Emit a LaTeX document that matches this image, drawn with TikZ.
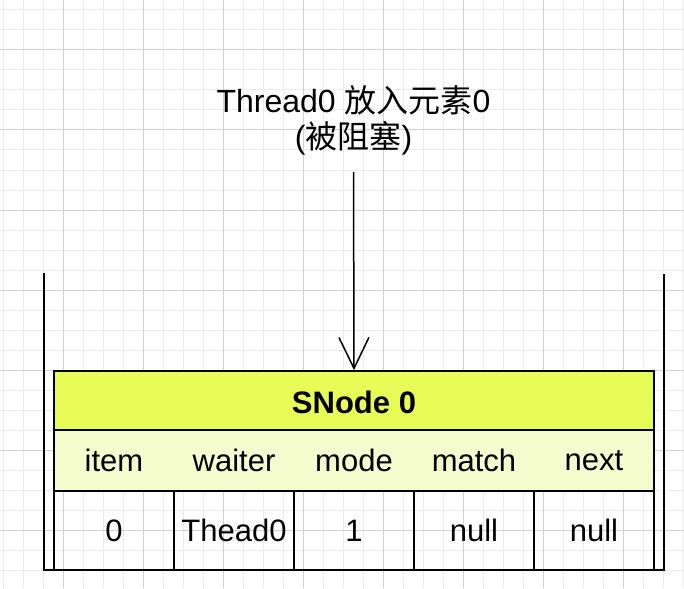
\documentclass[tikz,border=0pt]{standalone}
\usepackage{fontspec}
\setmainfont{Liberation Sans}
\newfontfamily\cjk{Noto Sans CJK SC}
\usetikzlibrary{arrows.meta,positioning}
\definecolor{hdrfill}{RGB}{232,252,88}
\definecolor{fldfill}{RGB}{245,253,206}
\tikzset{
  gminor/.style = {draw=black!8, line width=1pt},
  gmajor/.style = {draw=black!18, line width=1pt},
  hdr/.style    = {draw, line width=1.5pt, fill=hdrfill, minimum width=600pt,
                   minimum height=59pt, inner sep=0pt},
  frow/.style   = {draw, line width=1.5pt, fill=fldfill, minimum width=600pt,
                   minimum height=61pt, inner sep=0pt},
  fld/.style    = {inner sep=0pt, font=\fontsize{31}{36}\selectfont},
  cell/.style   = {draw, line width=1.5pt, minimum width=120pt,
                   minimum height=79pt, inner sep=0pt,
                   font=\fontsize{31}{36}\selectfont},
  wall/.style   = {line width=2pt},
  e/.style      = {-{Straight Barb[length=31pt,width=30pt]}, line width=1.5pt},
  title/.style  = {align=center, font=\fontsize{32}{36.4}\selectfont}
}

\begin{document}
\begin{tikzpicture}[x=1pt,y=-1pt]
  \useasboundingbox (0,0) rectangle (684,588);
  \fill[white] (0,0) rectangle (684,588);
  % ---- background grid ----
  \foreach \gx in {3,23,...,683} \draw[gminor] (\gx,0) -- (\gx,588);
  \foreach \gy in {10,30,...,580} \draw[gminor] (0,\gy) -- (684,\gy);
  \foreach \gx in {63,143,...,623} \draw[gmajor] (\gx,0) -- (\gx,588);
  \foreach \gy in {50,130,...,530} \draw[gmajor] (0,\gy) -- (684,\gy);
  % ---- queue walls ----
  \draw[wall] (44,273) -- (44,570) -- (664,570) -- (664,274);
  % ---- SNode 0 ----
  \node[hdr] (hdr) at (354,400.4) {};
  \node[inner sep=0pt, anchor=base, font=\fontsize{31}{36}\selectfont\bfseries]
    (hname) at (354,413) {SNode 0};
  \node[frow] (frow) at (354,460.5) {};
  \foreach \name [count=\i] in {item,waiter,mode,match,next}
    \node[fld] (f\i) at (114+120*\i-120,460.5) {\name};
  \foreach \val [count=\i] in {0,Thead0,1,null,null}
    \node[cell] (v\i) at (114+120*\i-120,530.5) {\val};
  % ---- put request ----
  \node[title, anchor=base] (ttl) at (353.5,148.7)
    {Thread0 {\cjk 放入元素}0\\({\cjk 被阻塞})};
  \draw[e, shorten <=13pt] (ttl.south) -- (hdr.north);
\end{tikzpicture}
\end{document}
